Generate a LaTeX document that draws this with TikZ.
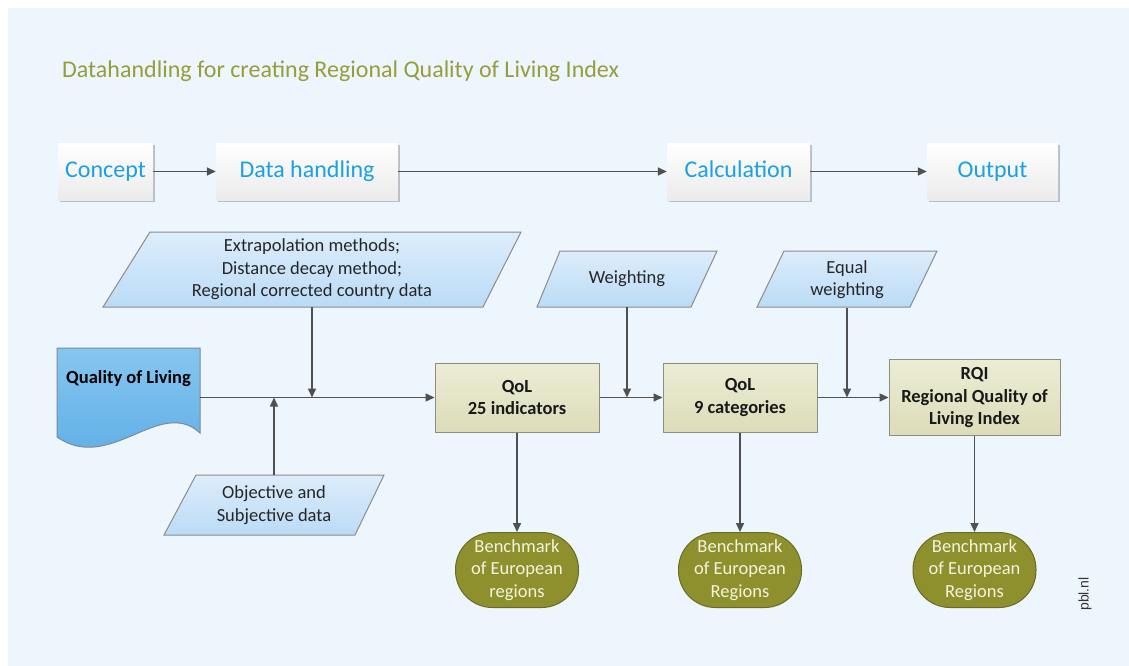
\documentclass[tikz,border=0pt]{standalone}
\usepackage{fontspec}
\setmainfont{Carlito}
\newfontfamily\pblfont{Liberation Sans}
\usetikzlibrary{arrows.meta,shadows}
\definecolor{panel}{HTML}{EDF5FD}
\definecolor{titleol}{HTML}{979D3A}
\definecolor{cyantext}{HTML}{1BA1E2}
\definecolor{arrowgray}{HTML}{505050}
\definecolor{paratop}{HTML}{DDEDFB}
\definecolor{parabot}{HTML}{BADBF6}
\definecolor{paraborder}{HTML}{8C8C8C}
\definecolor{tantop}{HTML}{ECECD5}
\definecolor{tanbot}{HTML}{DCDCB9}
\definecolor{tanborder}{HTML}{8E8E80}
\definecolor{olivefill}{HTML}{8E902E}
\definecolor{oliveborder}{HTML}{6A6B22}
\definecolor{olivetext}{HTML}{F4F4DC}
\definecolor{doctop}{HTML}{86C6F0}
\definecolor{docbot}{HTML}{5AABE5}
\definecolor{docborder}{HTML}{7F8A96}
\begin{document}
\begin{tikzpicture}[x=1pt,y=-1pt,
  arr/.style={draw=arrowgray, line width=1.5pt, -{Triangle[length=9pt,width=8pt]}},
  phase/.style={draw=none, top color=white, bottom color=black!8,
    drop shadow={shadow xshift=1.5pt, shadow yshift=-1.5pt, opacity=0.22, fill=black},
    text=cyantext, font=\fontsize{24}{28}\selectfont, inner sep=0pt, minimum height=57pt,
    text height=17pt, text depth=5pt},
  paratxt/.style={inner sep=0pt, align=center, text=black!85,
    font=\fontsize{18.5}{22.5}\selectfont},
  parashape/.style={top color=paratop, bottom color=parabot, draw=paraborder, line width=1pt},
  docshape/.style={top color=doctop, bottom color=docbot, draw=docborder, line width=1pt},
  tanbox/.style={draw=tanborder, line width=1pt, top color=tantop, bottom color=tanbot,
    align=center, font=\bfseries\fontsize{18.5}{22.5}\selectfont, inner sep=0pt, text=black!90},
  bench/.style={draw=oliveborder, line width=1pt, fill=olivefill, rounded corners=37pt,
    align=center, text=olivetext, font=\fontsize{18.5}{22.5}\selectfont,
    minimum width=123pt, minimum height=75pt, inner sep=0pt}
]
\useasboundingbox (0,0) rectangle (1129,666);
\fill[white] (0,0) rectangle (1129,666);
\fill[panel] (8,8) rectangle (1129,666);

% title
\node[anchor=base west, text=titleol, font=\fontsize{24}{28}\selectfont, inner sep=0pt]
  (title) at (62,78) {Datahandling for creating Regional Quality of Living Index};

% phase row
\node[phase, minimum width=95pt]  (concept) at (105.5,171.5) {Concept};
\node[phase, minimum width=182pt] (datah)   at (307,171.5)   {Data handling};
\node[phase, minimum width=143pt] (calc)    at (738.5,171.5) {Calculation};
\node[phase, minimum width=131pt] (output)  at (992.5,171.5) {Output};
\draw[arr] (concept) -- (datah);
\draw[arr] (datah) -- (calc);
\draw[arr] (calc) -- (output);

% shapes drawn directly
\path[parashape] (150,232) -- (521,232) -- (483,307) -- (103,307) -- cycle;
\path[parashape] (196,475) -- (384,475) -- (355,535) -- (164,535) -- cycle;
\path[parashape] (560,251) -- (717,251) -- (691,307) -- (537,307) -- cycle;
\path[parashape] (784,251) -- (937,251) -- (910,307) -- (757,307) -- cycle;
\path[docshape] (57,348) -- (200,348) -- (200,433)
  .. controls (160,396) and (110,474) .. (57,437) -- cycle;

% text nodes of the input shapes
\node[paratxt, minimum width=418pt, minimum height=75pt] (ext) at (312,269.5)
  {Extrapolation methods;\\Distance decay method;\\Regional corrected country data};
\node[paratxt, minimum width=220pt, minimum height=60pt] (obj) at (274,505)
  {Objective and\\Subjective data};
\node[paratxt, minimum width=180pt, minimum height=56pt] (wt) at (627,279) {Weighting};
\node[paratxt, minimum width=180pt, minimum height=56pt] (eq) at (847,279.5)
  {Equal\\weighting};
\node[inner sep=0pt, minimum width=143pt, font=\bfseries\fontsize{18.5}{22.5}\selectfont]
  (qol) at (128.5,379) {Quality of Living};

% process boxes
\node[tanbox, minimum width=164pt, minimum height=69pt] (q25) at (517,397.5) {QoL\\25 indicators};
\node[tanbox, minimum width=154pt, minimum height=69pt] (q9)  at (740,397.5) {QoL\\9 categories};
\node[tanbox, minimum width=171pt, minimum height=76pt] (rqi) at (974.5,397.5)
  {RQI\\Regional Quality of\\Living Index};

% benchmarks
\node[bench] (b1) at (517,570) {Benchmark\\of European\\regions};
\node[bench] (b2) at (740,570) {Benchmark\\of European\\Regions};
\node[bench] (b3) at (974.5,570) {Benchmark\\of European\\Regions};

% connectors
\draw[arr] (qol.east |- q25.west) -- (q25.west);
\draw[arr] (ext.south) -- (ext.south |- q25.west);
\draw[arr] (obj.north) -- (obj.north |- q25.west);
\draw[arr] (q25.east) -- (q9.west);
\draw[arr] (wt.south) -- (wt.south |- q9.west);
\draw[arr] (q9.east) -- (rqi.west);
\draw[arr] (eq.south) -- (eq.south |- rqi.west);
\draw[arr] (q25.south) -- (b1.north);
\draw[arr] (q9.south) -- (b2.north);
\draw[arr] (rqi.south) -- (b3.north);

% credit
\node[rotate=90, font=\pblfont\fontsize{14}{16}\selectfont, text=black!80, inner sep=0pt]
  (pbl) at (1085,594) {pbl.nl};
\end{tikzpicture}
\end{document}
